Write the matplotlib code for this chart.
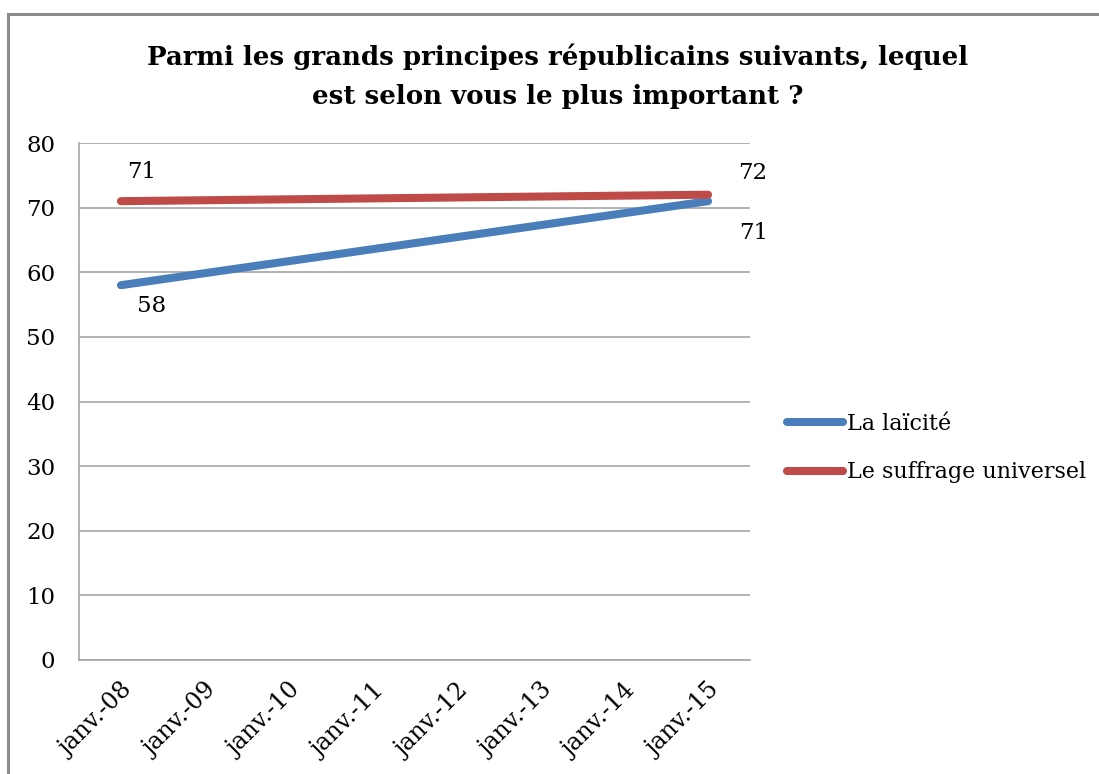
import numpy as np
import matplotlib
matplotlib.use("Agg")
import matplotlib.pyplot as plt
from matplotlib.lines import Line2D

# Survey data: share of respondents (%) per principle, by wave
categories = ["janv.-08", "janv.-09", "janv.-10", "janv.-11",
              "janv.-12", "janv.-13", "janv.-14", "janv.-15"]
laicite = [58, None, None, None, None, None, None, 71]
suffrage = [71, None, None, None, None, None, None, 72]
series_names = ["La laïcité", "Le suffrage universel"]
y_ticks = [0, 10, 20, 30, 40, 50, 60, 70, 80]
title = "Parmi les grands principes républicains suivants, lequel\nest selon vous le plus important ?"

BLUE = "#4A7EBB"
RED = "#BE4B48"
GRID = "#A6A6A6"
FONT = "DejaVu Serif"

fig = plt.figure(figsize=(10.99, 7.74), dpi=100)
fig.patch.set_facecolor("white")

# outer chart frame (left and top edges visible)
W, H = 1099, 774
fig.add_artist(Line2D([8 / W, 8 / W], [0, 1 - 14 / H], color="#8C8C8C", lw=2.2,
                      transform=fig.transFigure))
fig.add_artist(Line2D([8 / W, 1], [1 - 14 / H, 1 - 14 / H], color="#8C8C8C", lw=2.2,
                      transform=fig.transFigure))

ax = fig.add_axes([79 / W, 1 - 660 / H, 671 / W, 517 / H])
x = np.arange(len(categories))


def known(vals):
    pts = [(i, v) for i, v in enumerate(vals) if v is not None]
    return [p[0] for p in pts], [p[1] for p in pts]


lx, ly = known(laicite)
sx, sy = known(suffrage)
ax.plot(lx, ly, color=BLUE, lw=5.8, solid_capstyle="round", label=series_names[0], zorder=3)
ax.plot(sx, sy, color=RED, lw=5.8, solid_capstyle="round", label=series_names[1], zorder=4)

ax.set_xlim(-0.5, len(categories) - 0.5)
ax.set_ylim(0, 80)
ax.set_yticks(y_ticks)
ax.set_xticks(x)
ax.set_xticklabels(categories, rotation=45, ha="right", va="top",
                   rotation_mode="anchor", fontfamily=FONT, fontsize=17)
for lbl in ax.get_yticklabels():
    lbl.set_fontfamily(FONT)
    lbl.set_fontsize(16.5)
ax.tick_params(axis="both", length=0)
ax.tick_params(axis="y", pad=17)
ax.tick_params(axis="x", pad=14)
ax.grid(axis="y", color=GRID, lw=1.2)
ax.set_axisbelow(True)
for s in ["top", "right"]:
    ax.spines[s].set_visible(False)
for s in ["left", "bottom"]:
    ax.spines[s].set_color(GRID)
    ax.spines[s].set_linewidth(1.2)

# value labels at the ends of each series
lab_kw = dict(textcoords="offset pixels", fontfamily=FONT, fontsize=16.5,
              ha="center", va="center", color="black")
ax.annotate(f"{sy[0]}", (sx[0], sy[0]), xytext=(21, 29), **lab_kw)
ax.annotate(f"{ly[0]}", (lx[0], ly[0]), xytext=(31, -21), **lab_kw)
ax.annotate(f"{sy[-1]}", (sx[-1], sy[-1]), xytext=(45, 22), **lab_kw)
ax.annotate(f"{ly[-1]}", (lx[-1], ly[-1]), xytext=(46, -32), **lab_kw)

fig.text(558 / W, 1 - 76 / H, title, ha="center", va="center", fontfamily=FONT,
         fontweight="bold", fontsize=18.7, linespacing=1.72)

leg = ax.legend(loc="center left", bbox_to_anchor=(787 / W, 1 - 448 / H),
                bbox_transform=fig.transFigure, frameon=False,
                prop={"family": FONT, "size": 16}, handlelength=2.5,
                handletextpad=0.2, labelspacing=1.2, borderaxespad=0,
                borderpad=0)

fig.savefig("out.png", dpi=100)
